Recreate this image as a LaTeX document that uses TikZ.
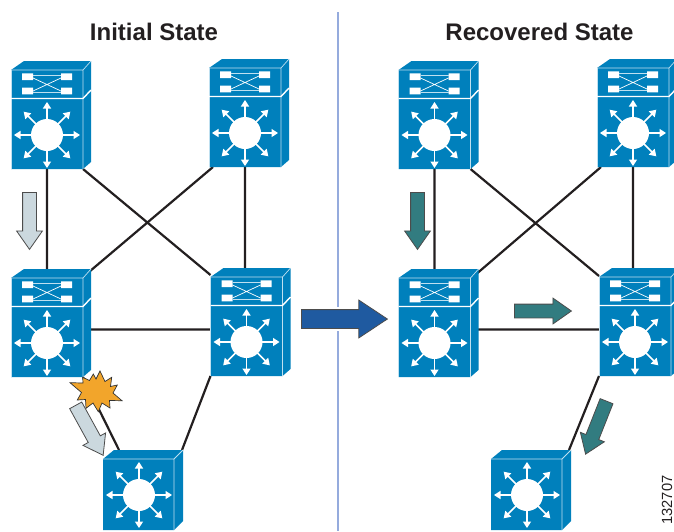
\documentclass[tikz,border=0pt]{standalone}
\usepackage{fontspec}
\setmainfont{Liberation Sans}
\usetikzlibrary{arrows.meta,shapes.arrows}
\definecolor{swblue}{HTML}{0080BC}
\definecolor{swedge}{HTML}{BFE0F0}
\definecolor{linkblack}{HTML}{231F20}
\definecolor{divblue}{HTML}{95ABDD}
\definecolor{paleflow}{HTML}{CBD8DE}
\definecolor{tealflow}{HTML}{327C80}
\definecolor{moveblue}{HTML}{1F5AA0}
\definecolor{burst}{HTML}{F2A52B}
\tikzset{
    swnode/.style={inner sep=0, outer sep=0, minimum width=72, minimum height=108},
    hubnode/.style={inner sep=0, outer sep=0, minimum width=71, minimum height=80},
    link/.style={linkblack, line width=2.2},
    flow/.style={single arrow, draw=black!70, line width=0.8, inner xsep=0, inner ysep=6.5pt, anchor=tail,
        minimum height=57, single arrow head extend=6, single arrow tip angle=70},
    title/.style={font=\fontsize{24}{28}\selectfont\bfseries, text=linkblack},
    pics/hubface/.style={code={
        \fill[white] (36,36) circle[radius=16pt];
        \foreach \a in {0,45,...,315}
            \draw[white, line width=1.5, -{Triangle[length=6.5pt,width=8pt]}]
                ([shift={(36,36)}]\a:15) -- ([shift={(36,36)}]\a:33);
    }},
    pics/stackswitch/.style={code={
        \begin{scope}[shift={(-36,-16)}]
        \fill[swblue] (0,-29) -- (13,-38) -- (80,-38) -- (80,63) -- (72,70) -- (0,70) -- cycle;
        \draw[swedge, line width=0.7] (0,-29) -- (72,-29) -- (72,70) (72,-29) -- (80,-38);
        \draw[swedge, line width=0.7] (0,-29) -- (0,70);
        \draw[white, line width=1.4] (0,-0.5) -- (72,-0.5) -- (80,-9);
        \fill[white] (11,-25.7) rectangle (22,-19) (50,-25.7) rectangle (61,-19)
            (11,-11.3) rectangle (22,-4.7) (50,-11.3) rectangle (61,-4.7);
        \draw[swedge, line width=0.6] (22,-23.5) -- (50,-23.5) (22,-7) -- (50,-7);
        \draw[white, line width=0.7] (22,-21) -- (50,-8) (22,-8) -- (50,-21);
        \pic {hubface};
        \end{scope}
    }},
    pics/hubswitch/.style={code={
        \begin{scope}[shift={(-35.5,-31)}]
        \fill[swblue] (0,0) -- (11,-9) -- (80,-9) -- (80,62) -- (71,71) -- (0,71) -- cycle;
        \draw[swedge, line width=0.8] (0,0) -- (71,0) -- (71,71) (71,0) -- (80,-9);
        \pic {hubface};
        \end{scope}
    }}
}

\begin{document}
\begin{tikzpicture}[x=1pt, y=-1pt]
    \useasboundingbox (0,0) rectangle (674,531);

    \node[title] (inittitle) at (154,32) {Initial State};
    \node[title] (recovtitle) at (539.5,32) {Recovered State};
    \node[rotate=90, font=\fontsize{14.7}{16}\selectfont, text=linkblack] (figno) at (667,500) {132707};

    \coordinate (divtop) at (338,12);
    \coordinate (divup) at (338,307);
    \coordinate (divlow) at (338,331);
    \coordinate (divend) at (338,531);
    \draw[divblue, line width=2] (divtop) -- (divup) (divlow) -- (divend);

    % left side
    \node[swnode] (tl) at (47,115) {};
    \node[swnode] (tr) at (245,113) {};
    \node[swnode] (ml) at (47,323) {};
    \node[swnode] (mr) at (246.5,322) {};
    \node[hubnode] (hub) at (138.5,490) {};
    % right side
    \node[swnode] (rtl) at (434.5,115) {};
    \node[swnode] (rtr) at (633,113) {};
    \node[swnode] (rml) at (434.5,323) {};
    \node[swnode] (rmr) at (635,322) {};
    \node[hubnode] (rhub) at (526.5,490) {};

    \draw[link]
    (tl.south) -- (ml.north)
    (tr.south) -- (tr.south |- mr.north)
    (tl.south east) -- ([yshift=-7pt]mr.north west)
    ([xshift=4pt]tr.south west) -- ([yshift=-8pt]ml.north east)
    ([yshift=-6.5pt]ml.east) -- ([yshift=-6.5pt]ml.east -| mr.west)
    (ml.south east) -- ([xshift=16pt]hub.north west)
    (mr.south west) -- ([xshift=8pt]hub.north east)
    ;
    \draw[link]
    (rtl.south) -- (rml.north)
    (rtr.south) -- (rtr.south |- rmr.north)
    (rtl.south east) -- ([yshift=-8pt]rmr.north west)
    ([xshift=4pt]rtr.south west) -- ([yshift=-10pt]rml.north east)
    ([yshift=-6.5pt]rml.east) -- ([yshift=-6.5pt]rml.east -| rmr.west)
    (rmr.south west) -- ([xshift=7pt]rhub.north east)
    ;

    \foreach \n in {tl,tr,ml,mr,rtl,rtr,rml,rmr}
        \pic at (\n) {stackswitch};
    \pic at (hub) {hubswitch};
    \pic at (rhub) {hubswitch};

    \node[flow, fill=paleflow, rotate=-90] (dropA) at (29.5,192) {};
    \node[flow, fill=paleflow, rotate=-61.2] (dropB) at (75.5,405) {};
    \node[flow, fill=tealflow, rotate=-90] (flowA) at (417.5,192) {};
    \node[flow, fill=tealflow, rotate=0] (flowB) at (514,311) {};
    \node[flow, fill=tealflow, rotate=-111.6] (flowC) at (606.7,400.8) {};
    \node[flow, fill=moveblue, rotate=0, minimum height=86, inner ysep=9pt,
        single arrow head extend=9.5, single arrow tip angle=67] (move) at (301,319) {};

    \draw[fill=burst, draw=black!80, line width=0.7, line join=miter]
    (100,371) -- (105,381.5) -- (111.7,377.3) -- (110.5,386.5) -- (117.3,385) -- (113,393)
    -- (122,400.7) -- (109.5,400.5) -- (110,408) -- (102,403) -- (98.3,411.7) -- (93,403)
    -- (86,408.3) -- (85.5,399.5) -- (77.3,400) -- (81.5,392.5) -- (70,382.7) -- (83,383)
    -- (82.7,377.3) -- (89.5,380.5) -- (93.3,374) -- (96,379) -- cycle;
\end{tikzpicture}
\end{document}
